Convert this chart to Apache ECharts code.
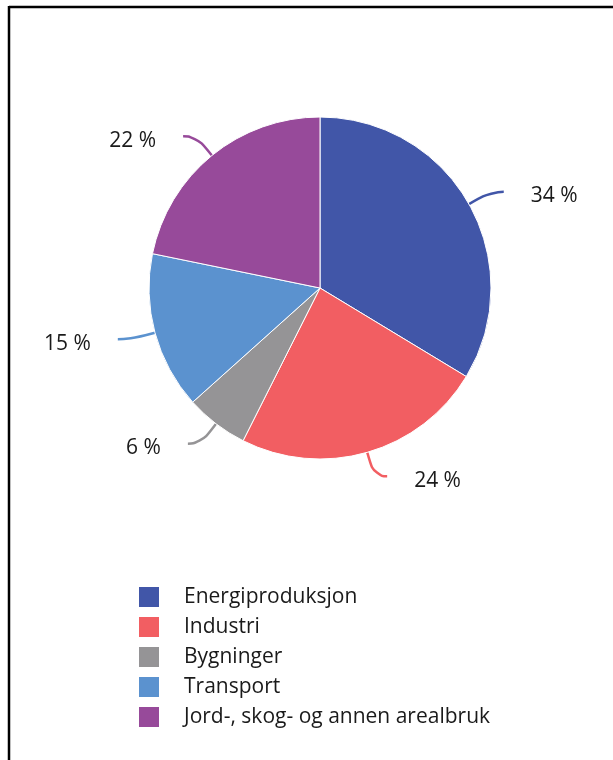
<!DOCTYPE html>
<html>
<head>
<meta charset="utf-8">
<style>
  html, body { margin: 0; padding: 0; background: #fff; }
  #chart { width: 613px; height: 760px; }
</style>
<script src="https://cdn.jsdelivr.net/npm/echarts@6/dist/echarts.min.js"></script>
</head>
<body>
<div id="chart"></div>
<script>
const categories = ['Energiproduksjon', 'Industri', 'Bygninger', 'Transport', 'Jord-, skog- og annen arealbruk'];
const values = [34, 24, 6, 15, 22];
const colors = ['#4156a8', '#f25e62', '#959496', '#5b92cf', '#974a9a'];

const chart = echarts.init(document.getElementById('chart'), null, { renderer: 'canvas' });
const FONT = '"Open Sans", "Noto Sans", sans-serif';

chart.setOption({
  animation: false,
  backgroundColor: '#ffffff',
  color: colors,
  graphic: [
    { type: 'line', shape: { x1: 9, y1: 7, x2: 613, y2: 7 }, style: { stroke: '#000', lineWidth: 2.5 } },
    { type: 'line', shape: { x1: 9, y1: 6, x2: 9, y2: 760 }, style: { stroke: '#000', lineWidth: 2.5 } }
  ],
  legend: {
    orient: 'vertical',
    left: 132,
    top: 580,
    itemWidth: 22,
    itemHeight: 22,
    itemGap: 6,
    icon: 'rect',
    data: categories,
    textStyle: { fontFamily: FONT, fontSize: 21, lineHeight: 22, color: '#1a1a1a', padding: [0, 0, 0, 19] }
  },
  series: [{
    type: 'pie',
    center: [320, 288],
    radius: [0, 171],
    startAngle: 90,
    clockwise: true,
    avoidLabelOverlap: false,
    itemStyle: { borderColor: '#ffffff', borderWidth: 1 },
    label: {
      show: true,
      formatter: p => '{s|}\n{t|' + p.value + ' %}',
      fontFamily: FONT,
      fontSize: 21,
      color: '#1a1a1a',
      rich: {
        s: { fontSize: 1, lineHeight: 9 },
        t: { fontFamily: FONT, fontSize: 21, lineHeight: 26, color: '#1a1a1a' }
      },
      distanceToLabelLine: 27
    },
    labelLine: {
      show: true,
      length: 25,
      length2: 13,
      smooth: 0.6,
      lineStyle: { width: 2.5 }
    },
    emphasis: { disabled: true },
    data: categories.map((c, i) => ({ name: c, value: values[i] }))
  }]
});
</script>
</body>
</html>
